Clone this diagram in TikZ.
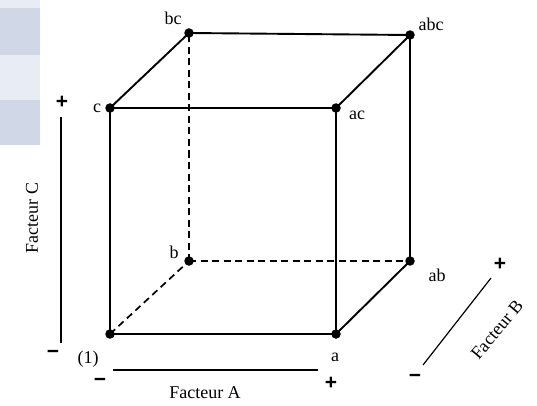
\documentclass[tikz,border=0pt]{standalone}
\usepackage{fontspec}
\setmainfont{Liberation Serif}
\newfontfamily\sgnfont{Liberation Sans}
\begin{document}
\begin{tikzpicture}[x=1pt,y=-1pt,
  dot/.style={circle,fill=black,inner sep=0pt,minimum size=9.5pt},
  edge/.style={line width=1.9pt},
  hidden/.style={line width=1.7pt,dash pattern=on 7pt off 4.5pt},
  axis/.style={line width=1.2pt},
  lbl/.style={inner sep=0pt,font=\fontsize{18}{20}\selectfont},
  sgn/.style={inner sep=0pt,font=\fontsize{21}{22}\sgnfont\bfseries},
]
\useasboundingbox (0,0) rectangle (537,406);
\fill[white] (0,0) rectangle (537,406);
% bands at top left
\definecolor{bandlight}{HTML}{E8ECF4}
\definecolor{banddark}{HTML}{D0D8E8}
\fill[bandlight] (0,0) rectangle (40,8);
\fill[banddark] (0,8) rectangle (40,55);
\fill[bandlight] (0,55) rectangle (40,100);
\fill[banddark] (0,100) rectangle (40,145);
% vertices
\node[dot] (o) at (110,334) {};
\node[dot] (a) at (336,334) {};
\node[dot] (c) at (110,108) {};
\node[dot] (ac) at (336,108) {};
\node[dot] (b) at (189,261) {};
\node[dot] (ab) at (410,261) {};
\node[dot] (bc) at (189,33) {};
\node[dot] (abc) at (410,35) {};
% hidden edges
\draw[hidden] (o.center) -- (b.center);
\draw[hidden] (b.center) -- (ab.center);
\draw[hidden] (b.center) -- (bc.center);
% visible edges
\draw[edge] (o.center) -- (a.center) -- (ac.center) -- (c.center) -- (o.center);
\draw[edge] (c.center) -- (bc.center) -- (abc.center) -- (ac.center);
\draw[edge] (abc.center) -- (ab.center) -- (a.center);
% vertex labels
\node[lbl] (lbc) at (173,18) {bc};
\node[lbl] (lc) at (97,108) {c};
\node[lbl] (labc) at (431,24) {abc};
\node[lbl] (lac) at (357,115) {ac};
\node[lbl] (lb) at (174,252) {b};
\node[lbl] (lab) at (437,275) {ab};
\node[lbl] (la) at (335,357) {a};
\node[lbl] (lo) at (88,359) {(1)};
% factor C axis
\coordinate (c1) at (61,117);
\coordinate (c2) at (61,343);
\draw[axis] (c1) -- (c2);
\node[sgn] (cp) at (62,102) {+};
\node[sgn] (cm) at (53,354) {−};
\node[lbl,rotate=90] (fc) at (32,218) {Facteur C};
% factor A axis
\coordinate (a1) at (113,370);
\coordinate (a2) at (318,370);
\draw[axis] (a1) -- (a2);
\node[sgn] (am) at (100,382) {−};
\node[sgn] (ap) at (331,383) {+};
\node[lbl] (fa) at (205,393) {Facteur A};
% factor B axis
\coordinate (b1) at (423,365);
\coordinate (b2) at (491,278);
\draw[axis] (b1) -- (b2);
\node[sgn] (bp) at (500,264) {+};
\node[sgn] (bm) at (415,378) {−};
\node[lbl,rotate=50] (fb) at (497,330) {Facteur B};
\end{tikzpicture}
\end{document}
